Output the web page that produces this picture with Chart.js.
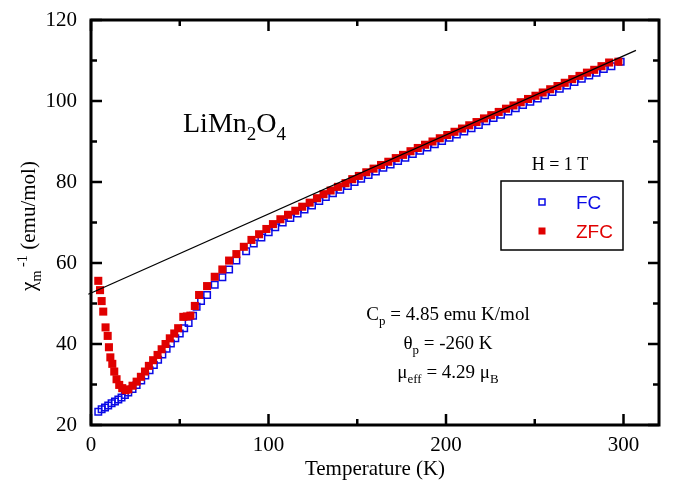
<!DOCTYPE html>
<html>
<head>
<meta charset="utf-8">
<script src="https://cdn.jsdelivr.net/npm/chart.js@4.4.1/dist/chart.umd.min.js"></script>
<style>
  html, body { margin: 0; padding: 0; background: #fff; }
  canvas { display: block; }
</style>
</head>
<body>
<canvas id="chart" width="675" height="484"></canvas>
<script>
// ZFC (red filled squares)
const tempZFC = [4.1, 5.1, 6.0, 6.9, 8.2, 9.4, 10.1, 10.9, 12.0, 13.1, 14.4, 15.9, 17.6, 19.5, 21.0,
    23.4, 25.7, 28.1, 30.4, 32.6, 35.0, 37.5, 39.8, 42.0, 44.4, 46.9, 49.1, 52.0, 54.0, 56.0, 58.5,
    60.9, 65.4, 69.7, 74.0, 77.8, 81.9,
    86.1, 90.4, 94.7, 98.8, 102.5, 106.7, 111.0, 115.1, 119.0, 123.2, 127.3, 131.0, 135.0, 139.1,
    143.4, 147.2, 150.9, 155.1, 159.2, 163.4, 167.5, 171.7, 175.8, 180.0, 184.1, 188.2, 192.4, 196.5,
    200.7, 204.8, 209.0, 213.1, 217.2, 221.4, 225.5, 229.7, 233.8, 238.0, 242.1, 246.2, 250.4, 254.5,
    258.7, 262.8, 266.9, 271.1, 275.2, 279.4, 283.5, 287.6, 291.9, 297.1];
const chiZFC = [55.6, 53.3, 50.6, 48.0, 44.1, 42.0, 39.2, 36.7, 35.1, 33.2, 31.3, 29.9, 29.1, 28.6, 28.8,
    29.7, 30.7, 31.9, 33.2, 34.6, 36.0, 37.3, 38.7, 40.0, 41.4, 42.6, 43.9, 46.7, 46.8, 47.0, 49.4,
    52.1, 54.3, 56.6, 58.4, 60.6, 62.2,
    64.0, 65.7, 67.1, 68.4, 69.6, 70.8, 71.9, 72.9, 73.9, 74.9, 76.0, 77.0, 77.9, 78.8,
    79.7, 80.7, 81.5, 82.4, 83.3, 84.2, 85.0, 85.9, 86.7, 87.6, 88.4, 89.2, 90.0, 90.8,
    91.6, 92.4, 93.2, 94.0, 94.8, 95.7, 96.5, 97.3, 98.1, 98.9, 99.7, 100.5, 101.3, 102.1,
    102.9, 103.7, 104.5, 105.4, 106.2, 107.0, 107.7, 108.6, 109.5, 109.7];

// FC (blue open squares)
const tempFC = [4.1, 6.0, 7.9, 9.7, 11.6, 13.5, 15.4, 17.2, 19.1, 21.0, 23.4, 25.7, 28.3, 30.6, 33.0,
    35.4, 37.8, 40.2, 42.6, 45.0, 47.5, 50.0, 52.5, 55.0, 57.5, 59.5, 62.0, 65.4, 69.7, 74.0, 77.8, 81.9,
    87.4, 91.7, 96.0, 100.1, 103.8, 108.0, 112.3, 116.4, 120.3, 124.5, 128.6, 132.3, 136.3, 140.4,
    144.7, 148.5, 152.2, 156.4, 160.5, 164.7, 168.8, 173.0, 177.1, 181.3, 185.4, 189.5, 193.7, 197.8,
    202.0, 206.1, 210.3, 214.4, 218.5, 222.7, 226.8, 231.0, 235.1, 239.3, 243.4, 247.5, 251.7, 255.8,
    260.0, 264.1, 268.2, 272.4, 276.5, 280.7, 284.8, 288.9, 293.2, 298.4];
const chiFC = [23.3, 23.9, 24.3, 24.8, 25.4, 25.8, 26.3, 26.8, 27.4, 28.0, 28.9, 29.9, 31.0, 32.2, 33.5,
    34.8, 36.1, 37.4, 38.8, 40.1, 41.4, 42.6, 43.9, 45.2, 47.0, 49.2, 50.6, 52.1, 54.6, 56.5, 58.4, 60.6,
    62.9, 64.8, 66.3, 67.6, 68.8, 70.0, 71.1, 72.2, 73.2, 74.2, 75.3, 76.3, 77.2, 78.1,
    79.0, 80.0, 80.8, 81.7, 82.6, 83.5, 84.3, 85.2, 86.0, 86.9, 87.7, 88.5, 89.3, 90.1,
    90.9, 91.7, 92.5, 93.3, 94.1, 95.0, 95.8, 96.6, 97.4, 98.2, 99.0, 99.8, 100.6, 101.4,
    102.2, 103.0, 103.8, 104.7, 105.5, 106.3, 107.0, 107.9, 108.6, 109.7];

// Curie-Weiss fit line end points
const fitT = [-1.5, 307];
const fitChi = [52.3, 112.5];

// axis ticks (labels only on the long ones)
const xTickValues = [0, 50, 100, 150, 200, 250, 300];
const yTickValues = [20, 30, 40, 50, 60, 70, 80, 90, 100, 110, 120];

const seriesLabels = ['FC', 'ZFC'];
const blue = '#0a0ae6';
const red = '#e00000';
const serif = '"Liberation Serif", "Times New Roman", serif';
const sans = '"Liberation Sans", Arial, sans-serif';

function toPoints(xs, ys) {
    return xs.map((x, i) => ({ x: x, y: ys[i] }));
}

// draw text pieces with sub/superscripts, starting at x
function drawRich(ctx, parts, x, y, size) {
    parts.forEach(p => {
        const s = p.sub || p.sup ? size * 0.68 : size;
        ctx.font = s + 'px ' + serif;
        const dy = p.sub ? size * 0.28 : (p.sup ? -size * 0.38 : 0);
        ctx.fillText(p.t, x, y + dy);
        x += ctx.measureText(p.t).width;
    });
    return x;
}
function richWidth(ctx, parts, size) {
    let w = 0;
    parts.forEach(p => {
        const s = p.sub || p.sup ? size * 0.68 : size;
        ctx.font = s + 'px ' + serif;
        w += ctx.measureText(p.t).width;
    });
    return w;
}

const framePlugin = {
    id: 'frame',
    afterDatasetsDraw(chart) {
        const ctx = chart.ctx;
        const a = chart.chartArea;
        const xs = chart.scales.x, ys = chart.scales.y;
        ctx.save();
        ctx.strokeStyle = '#000';
        ctx.lineWidth = 3;
        ctx.strokeRect(a.left, a.top, a.right - a.left, a.bottom - a.top);
        ctx.lineWidth = 2.5;
        ctx.beginPath();
        xs.ticks.forEach(t => {
            const px = xs.getPixelForValue(t.value);
            const len = t.value % 100 === 0 ? 11 : 6;
            ctx.moveTo(px, a.bottom); ctx.lineTo(px, a.bottom - len);
            ctx.moveTo(px, a.top); ctx.lineTo(px, a.top + len);
        });
        ys.ticks.forEach(t => {
            const py = ys.getPixelForValue(t.value);
            const len = t.value % 20 === 0 ? 11 : 6;
            ctx.moveTo(a.left, py); ctx.lineTo(a.left + len, py);
            ctx.moveTo(a.right, py); ctx.lineTo(a.right - len, py);
        });
        ctx.stroke();

        // axis titles
        ctx.fillStyle = '#000';
        ctx.textBaseline = 'alphabetic';
        ctx.font = '21px ' + serif;
        ctx.textAlign = 'center';
        ctx.fillText('Temperature (K)', (a.left + a.right) / 2, 475);
        ctx.textAlign = 'left';
        const yParts = [{ t: 'χ' }, { t: 'm', sub: true }, { t: ' -1', sup: true }, { t: ' (emu/mol)' }];
        ctx.save();
        ctx.translate(35, 226);
        ctx.rotate(-Math.PI / 2);
        drawRich(ctx, yParts, -richWidth(ctx, yParts, 21) / 2, 0, 21);
        ctx.restore();

        // compound name
        drawRich(ctx, [{ t: 'LiMn' }, { t: '2', sub: true }, { t: 'O' }, { t: '4', sub: true }], 183, 132, 28);

        // fit parameters
        const lines = [
            [{ t: 'C' }, { t: 'p', sub: true }, { t: ' = 4.85 emu K/mol' }],
            [{ t: 'θ' }, { t: 'p', sub: true }, { t: ' = -260 K' }],
            [{ t: 'μ' }, { t: 'eff', sub: true }, { t: ' = 4.29 μ' }, { t: 'B', sub: true }]
        ];
        lines.forEach((l, i) => {
            const w = richWidth(ctx, l, 19);
            drawRich(ctx, l, 448 - w / 2, 320 + i * 29, 19);
        });

        // legend
        ctx.font = '18px ' + serif;
        ctx.textAlign = 'center';
        ctx.fillText('H = 1 T', 560, 170);
        ctx.lineWidth = 1.5;
        ctx.strokeStyle = '#000';
        ctx.strokeRect(501, 181, 122, 69);
        const ds = chart.data.datasets;
        [ds[2], ds[1]].forEach((d, i) => {
            const cy = 202 + i * 29;
            if (d.pointBackgroundColor === 'transparent') {
                ctx.strokeStyle = d.pointBorderColor;
                ctx.lineWidth = 1.5;
                ctx.strokeRect(539, cy - 3, 6, 6);
            } else {
                ctx.fillStyle = d.pointBackgroundColor;
                ctx.fillRect(538.5, cy - 3.5, 7, 7);
            }
            ctx.fillStyle = d.pointBorderColor;
            ctx.font = '19px ' + sans;
            ctx.textAlign = 'left';
            ctx.fillText(d.label, 576, cy + 7);
        });
        ctx.restore();
    }
};

new Chart(document.getElementById('chart').getContext('2d'), {
    type: 'scatter',
    data: {
        datasets: [
            {
                label: 'fit',
                type: 'line',
                data: toPoints(fitT, fitChi),
                borderColor: '#000',
                borderWidth: 1.2,
                pointRadius: 0,
                clip: false,
                order: 0
            },
            {
                label: seriesLabels[1],
                data: toPoints(tempZFC, chiZFC),
                pointStyle: 'rect',
                pointRadius: 5.7,
                pointBackgroundColor: red,
                pointBorderColor: red,
                pointBorderWidth: 0,
                order: 1
            },
            {
                label: seriesLabels[0],
                data: toPoints(tempFC, chiFC),
                pointStyle: 'rect',
                pointRadius: 4.6,
                pointBackgroundColor: 'transparent',
                pointBorderColor: blue,
                pointBorderWidth: 1.5,
                order: 2
            }
        ]
    },
    options: {
        responsive: false,
        animation: false,
        layout: { padding: { top: 20, right: 16, left: 0, bottom: 0 } },
        plugins: { legend: { display: false }, tooltip: { enabled: false } },
        scales: {
            x: {
                type: 'linear',
                min: 0,
                max: 320,
                grid: { display: false, drawTicks: false },
                border: { display: false },
                afterBuildTicks: s => { s.ticks = xTickValues.map(v => ({ value: v })); },
                ticks: {
                    padding: 8,
                    autoSkip: false,
                    color: '#000',
                    font: { family: serif, size: 21 },
                    maxRotation: 0,
                    callback: v => (v % 100 === 0 ? String(v) : '')
                },
                afterFit: s => { s.height = 59; s.paddingLeft = 0; s.paddingRight = 0; }
            },
            y: {
                min: 20,
                max: 120,
                grid: { display: false, drawTicks: false },
                border: { display: false },
                afterBuildTicks: s => { s.ticks = yTickValues.map(v => ({ value: v })); },
                ticks: {
                    padding: 14,
                    autoSkip: false,
                    color: '#000',
                    font: { family: serif, size: 21 },
                    callback: v => (v % 20 === 0 ? String(v) : '')
                },
                afterFit: s => { s.width = 91; s.paddingTop = 0; s.paddingBottom = 0; }
            }
        }
    },
    plugins: [framePlugin]
});
</script>
</body>
</html>
